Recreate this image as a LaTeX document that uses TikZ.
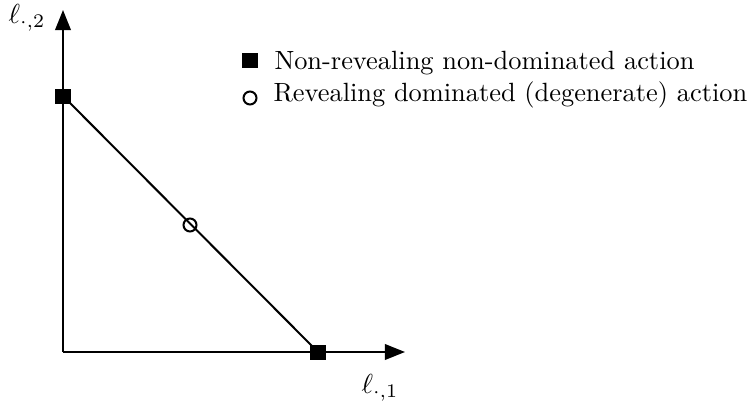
\documentclass[tikz,border=0pt]{standalone}
\usetikzlibrary{arrows.meta}
\begin{document}
\begin{tikzpicture}[x=0.4pt,y=-0.4pt,
  axis/.style={line width=0.8pt,-{Triangle[width=6.2pt,length=8pt]}},
  sq/.style={fill=black,minimum size=6pt,inner sep=0pt},
  circ/.style={circle,draw,line width=0.8pt,minimum size=5.2pt,inner sep=0pt},
  axlabel/.style={scale=1.1},
  ltext/.style={anchor=base west,inner sep=0pt,scale=1.055}]
\useasboundingbox (0,0) rectangle (749,402);
\coordinate (O) at (63,352);
\coordinate (Ytop) at (63,10);
\coordinate (Xend) at (405,352);
\draw[axis] (O) -- (Ytop);
\draw[axis] (O) -- (Xend);
\node (A) at (63,96) {};
\node (B) at (318,352) {};
\draw[line width=0.8pt] (A.center) -- (B.center);
\node[sq] (A2) at (63,96) {};
\node[sq] (B2) at (318,352) {};
\node[circ] (C) at (190,225) {};
\node[axlabel] (ly) at (27,18) {$\ell_{\cdot,2}$};
\node[axlabel] (lx) at (380,388) {$\ell_{\cdot,1}$};
\node[sq] (k1) at (250,60) {};
\node[circ] (k2) at (250,98) {};
\node[ltext] (t1) at (274,69) {Non-revealing non-dominated action};
\node[ltext] (t2) at (273,101) {Revealing dominated (degenerate) action};
\end{tikzpicture}
\end{document}
